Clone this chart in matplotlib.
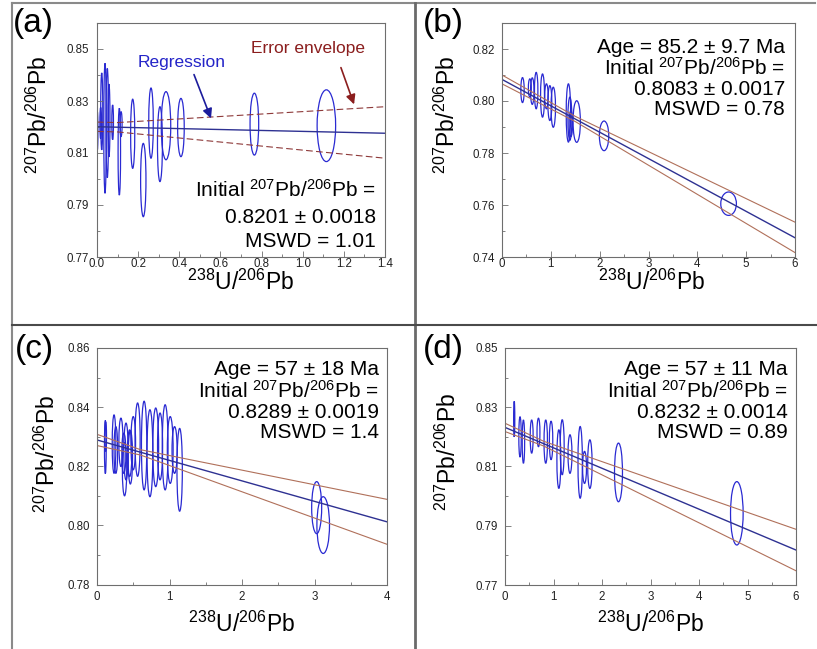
import matplotlib
matplotlib.use("Agg")
import matplotlib.pyplot as plt
from matplotlib.patches import Ellipse
from matplotlib.lines import Line2D
from matplotlib.ticker import FixedLocator

plt.rcParams['font.family'] = ['Liberation Sans', 'DejaVu Sans']
plt.rcParams['mathtext.fontset'] = 'custom'
plt.rcParams['mathtext.rm'] = 'Liberation Sans'
plt.rcParams['mathtext.it'] = 'Liberation Sans:italic'
plt.rcParams['mathtext.bf'] = 'Liberation Sans:bold'

W, H = 817, 649

# ---------------- data ----------------
# panel (a)
a_x = [0.0015, 0.018, 0.023, 0.039, 0.050, 0.058, 0.076, 0.1085, 0.117, 0.1735, 0.225, 0.2625, 0.306, 0.3354, 0.408, 0.765, 1.115]
a_y = [0.8185, 0.8215, 0.8260, 0.8195, 0.8215, 0.8225, 0.8218, 0.8105, 0.8211, 0.8174, 0.7996, 0.8215, 0.8134, 0.8205, 0.8198, 0.8211, 0.8205]
a_sx = [0.003, 0.004, 0.005, 0.006, 0.006, 0.005, 0.004, 0.006, 0.005, 0.010, 0.013, 0.011, 0.012, 0.023, 0.016, 0.021, 0.045]
a_sy = [0.0074, 0.0060, 0.0148, 0.0250, 0.0210, 0.0140, 0.0067, 0.0167, 0.0048, 0.0133, 0.0141, 0.0135, 0.0144, 0.0131, 0.0112, 0.0119, 0.0138]
a_reg_x = [0.0, 1.4]
a_reg_y = [0.8201, 0.8176]
a_env_x = [0.0, 0.1, 1.4]
a_env_up = [0.8219, 0.8217, 0.8278]
a_env_lo = [0.8183, 0.8181, 0.8080]

# panel (b)
b_x = [0.42, 0.57, 0.62, 0.70, 0.83, 0.91, 0.98, 1.05, 1.36, 1.39, 1.41, 1.53, 2.09, 4.64]
b_y = [0.8042, 0.8050, 0.8038, 0.8040, 0.8021, 0.8018, 0.7992, 0.7976, 0.7954, 0.7932, 0.7913, 0.7921, 0.7866, 0.7605]
b_sx = [0.034, 0.030, 0.035, 0.035, 0.040, 0.035, 0.040, 0.045, 0.045, 0.040, 0.035, 0.075, 0.096, 0.160]
b_sy = [0.0048, 0.0035, 0.0051, 0.0070, 0.0083, 0.0048, 0.0067, 0.0077, 0.0112, 0.0083, 0.0050, 0.0080, 0.0057, 0.0045]
b_reg_x = [0.0, 6.0]
b_reg_y = [0.8083, 0.7474]
b_env_x = [0.0, 1.5, 6.0]
b_env_up = [0.8100, 0.7941, 0.7534]
b_env_lo = [0.8066, 0.7921, 0.7417]

# panel (c)
c_x = [0.115, 0.119, 0.235, 0.26, 0.33, 0.37, 0.38, 0.40, 0.45, 0.46, 0.50, 0.56, 0.65, 0.73, 0.81, 0.87, 0.94, 1.01, 1.07, 1.14, 3.03, 3.12]
c_y = [0.8265, 0.8300, 0.8275, 0.8255, 0.8281, 0.8244, 0.8190, 0.8250, 0.8244, 0.8230, 0.8278, 0.8290, 0.8270, 0.8244, 0.8264, 0.8267, 0.8264, 0.8255, 0.8255, 0.8188, 0.8060, 0.8001]
c_sx = [0.012, 0.012, 0.025, 0.025, 0.028, 0.028, 0.030, 0.030, 0.030, 0.030, 0.032, 0.035, 0.037, 0.040, 0.040, 0.035, 0.040, 0.040, 0.035, 0.037, 0.069, 0.087]
c_sy = [0.0090, 0.0050, 0.0099, 0.0079, 0.0082, 0.0068, 0.0090, 0.0096, 0.0079, 0.0090, 0.0090, 0.0124, 0.0150, 0.0147, 0.0133, 0.0113, 0.0144, 0.0113, 0.0079, 0.0140, 0.0088, 0.0096]
c_reg_x = [0.0, 4.0]
c_reg_y = [0.8289, 0.8012]
c_env_x = [0.0, 0.6, 4.0]
c_env_up = [0.8308, 0.8256, 0.8088]
c_env_lo = [0.8270, 0.8238, 0.7936]

# panel (d)
d_x = [0.19, 0.31, 0.38, 0.55, 0.69, 0.84, 0.95, 1.11, 1.18, 1.34, 1.55, 1.64, 1.75, 2.34, 4.78]
d_y = [0.8260, 0.8200, 0.8184, 0.8201, 0.8215, 0.8184, 0.8188, 0.8125, 0.8165, 0.8142, 0.8114, 0.8097, 0.8108, 0.8080, 0.7942]
d_sx = [0.012, 0.025, 0.025, 0.030, 0.030, 0.035, 0.035, 0.040, 0.040, 0.040, 0.045, 0.040, 0.045, 0.082, 0.130]
d_sy = [0.0060, 0.0068, 0.0073, 0.0056, 0.0048, 0.0073, 0.0065, 0.0099, 0.0093, 0.0065, 0.0121, 0.0054, 0.0082, 0.0099, 0.0107]
d_reg_x = [0.0, 6.0]
d_reg_y = [0.8232, 0.7818]
d_env_x = [0.0, 0.8, 6.0]
d_env_up = [0.8246, 0.8185, 0.7888]
d_env_lo = [0.8218, 0.8169, 0.7748]

# axes ranges / ticks
a_xlim, a_ylim = (0, 1.4), (0.77, 0.86)
a_xticks = [0.0, 0.2, 0.4, 0.6, 0.8, 1.0, 1.2, 1.4]
a_xlabels = ['0.0', '0.2', '0.4', '0.6', '0.8', '1.0', '1.2', '1.4']
a_xminor = [0.1, 0.3, 0.5, 0.7, 0.9, 1.1, 1.3]
a_yticks = [0.77, 0.79, 0.81, 0.83, 0.85]
a_ylabels = ['0.77', '0.79', '0.81', '0.83', '0.85']
a_yminor = [0.78, 0.80, 0.82, 0.84]

b_xlim, b_ylim = (0, 6), (0.74, 0.83)
b_xticks = [0, 1, 2, 3, 4, 5, 6]
b_xlabels = ['0', '1', '2', '3', '4', '5', '6']
b_xminor = [0.5, 1.5, 2.5, 3.5, 4.5, 5.5]
b_yticks = [0.74, 0.76, 0.78, 0.80, 0.82]
b_ylabels = ['0.74', '0.76', '0.78', '0.80', '0.82']
b_yminor = [0.75, 0.77, 0.79, 0.81]

c_xlim, c_ylim = (0, 4), (0.78, 0.86)
c_xticks = [0, 1, 2, 3, 4]
c_xlabels = ['0', '1', '2', '3', '4']
c_xminor = [0.5, 1.5, 2.5, 3.5]
c_yticks = [0.78, 0.80, 0.82, 0.84, 0.86]
c_ylabels = ['0.78', '0.80', '0.82', '0.84', '0.86']
c_yminor = [0.79, 0.81, 0.83, 0.85]

d_xlim, d_ylim = (0, 6), (0.77, 0.85)
d_xticks = [0, 1, 2, 3, 4, 5, 6]
d_xlabels = ['0', '1', '2', '3', '4', '5', '6']
d_xminor = [0.5, 1.5, 2.5, 3.5, 4.5, 5.5]
d_yticks = [0.77, 0.79, 0.81, 0.83, 0.85]
d_ylabels = ['0.77', '0.79', '0.81', '0.83', '0.85']
d_yminor = [0.78, 0.80, 0.82, 0.84]

a_text = [r'Initial $^{207}$Pb/$^{206}$Pb =', '0.8201 ± 0.0018', 'MSWD = 1.01']
b_text = ['Age = 85.2 ± 9.7 Ma', r'Initial $^{207}$Pb/$^{206}$Pb =', '0.8083 ± 0.0017', 'MSWD = 0.78']
c_text = ['Age = 57 ± 18 Ma', r'Initial $^{207}$Pb/$^{206}$Pb =', '0.8289 ± 0.0019', 'MSWD = 1.4']
d_text = ['Age = 57 ± 11 Ma', r'Initial $^{207}$Pb/$^{206}$Pb =', '0.8232 ± 0.0014', 'MSWD = 0.89']

XLABEL = r'$^{238}$U/$^{206}$Pb'
YLABEL = r'$^{207}$Pb/$^{206}$Pb'

# ---------------- drawing ----------------
fig = plt.figure(figsize=(W / 100, H / 100), dpi=100)
fig.patch.set_facecolor('white')


def rect(l, t, r, b):
    return [l / W, 1 - b / H, (r - l) / W, (b - t) / H]


def fpt(x, y):
    return (x / W, 1 - y / H)


ELL_C = '#2a2ad2'
REG_C = '#2e3192'
ENV_C = '#b0705a'
FRAME_C = '#6e6e6e'


def panel(box, xs, ys, sxs, sys_, regx, regy, envx, envup, envlo,
          xlim, ylim, xt, xtl, xmn, yt, ytl, ymn, dashed,
          xlab_pos, ylab_pos, xpad, ypad):
    ax = fig.add_axes(rect(*box))
    ax.set_xlim(*xlim)
    ax.set_ylim(*ylim)
    for x, y, sx, sy in zip(xs, ys, sxs, sys_):
        ax.add_patch(Ellipse((x, y), 2 * sx, 2 * sy, fill=False,
                             ec=ELL_C, lw=0.9))
    ls = (0, (6, 3)) if dashed else '-'
    ec = '#8e3a3a' if dashed else ENV_C
    ax.plot(envx, envup, color=ec, lw=0.8, ls=ls)
    ax.plot(envx, envlo, color=ec, lw=0.8, ls=ls)
    ax.plot(regx, regy, color=REG_C, lw=1.0)
    ax.xaxis.set_major_locator(FixedLocator(xt))
    ax.set_xticklabels(xtl)
    ax.xaxis.set_minor_locator(FixedLocator(xmn))
    ax.yaxis.set_major_locator(FixedLocator(yt))
    ax.set_yticklabels(ytl)
    ax.yaxis.set_minor_locator(FixedLocator(ymn))
    ax.tick_params(which='both', direction='in', colors=FRAME_C,
                   labelcolor='#222222', labelsize=8.3, width=0.6)
    ax.tick_params(which='major', length=4)
    ax.tick_params(which='minor', length=2.5)
    ax.tick_params(axis='x', pad=xpad)
    ax.tick_params(axis='y', pad=ypad)
    for s in ax.spines.values():
        s.set_color(FRAME_C)
        s.set_linewidth(0.8)
    ax.set_xlabel(XLABEL, fontsize=16.5, va='baseline')
    ax.xaxis.set_label_coords(*xlab_pos)
    ax.set_ylabel(YLABEL, fontsize=16.5, va='baseline')
    ax.yaxis.set_label_coords(*ylab_pos)
    return ax


axA = panel((97, 23, 385, 257), a_x, a_y, a_sx, a_sy, a_reg_x, a_reg_y,
            a_env_x, a_env_up, a_env_lo, a_xlim, a_ylim, a_xticks, a_xlabels,
            a_xminor, a_yticks, a_ylabels, a_yminor, True,
            (0.50, -0.142), (-0.174, 0.61), 1.0, 6)
axB = panel((502, 23, 795, 257), b_x, b_y, b_sx, b_sy, b_reg_x, b_reg_y,
            b_env_x, b_env_up, b_env_lo, b_xlim, b_ylim, b_xticks, b_xlabels,
            b_xminor, b_yticks, b_ylabels, b_yminor, False,
            (0.51, -0.142), (-0.161, 0.607), 1.0, 5)
axC = panel((97, 348, 387, 584.5), c_x, c_y, c_sx, c_sy, c_reg_x, c_reg_y,
            c_env_x, c_env_up, c_env_lo, c_xlim, c_ylim, c_xticks, c_xlabels,
            c_xminor, c_yticks, c_ylabels, c_yminor, False,
            (0.50, -0.2), (-0.145, 0.552), 5, 5)
axD = panel((505, 348, 796, 585), d_x, d_y, d_sx, d_sy, d_reg_x, d_reg_y,
            d_env_x, d_env_up, d_env_lo, d_xlim, d_ylim, d_xticks, d_xlabels,
            d_xminor, d_yticks, d_ylabels, d_yminor, False,
            (0.50, -0.197), (-0.168, 0.562), 4.5, 5)

# statistics text
for txt, yy in zip(a_text, [197, 223, 247]):
    fig.text(*fpt(376, yy), txt, ha='right', va='baseline', fontsize=15)
for txt, yy in zip(b_text, [53, 75, 95, 115]):
    fig.text(*fpt(785, yy), txt, ha='right', va='baseline', fontsize=15)
for txt, yy in zip(c_text, [375, 398, 418, 438]):
    fig.text(*fpt(379, yy), txt, ha='right', va='baseline', fontsize=15)
for txt, yy in zip(d_text, [375, 398, 418, 438]):
    fig.text(*fpt(788, yy), txt, ha='right', va='baseline', fontsize=15)

# panel letters
for lab, xx, yy in [('(a)', 13, 32), ('(b)', 423, 32), ('(c)', 15, 358), ('(d)', 423, 358)]:
    fig.text(*fpt(xx, yy), lab, ha='left', va='baseline', fontsize=24)

# callouts in (a)
fig.text(*fpt(182, 63), 'Regression', ha='center', va='center', fontsize=12.5, color='#2424c8')
fig.text(*fpt(308, 48), 'Error envelope', ha='center', va='center', fontsize=12.5, color='#8b1e1e')
fig.add_artist(matplotlib.patches.FancyArrowPatch(
    fpt(193, 72), fpt(212, 121), transform=fig.transFigure,
    arrowstyle='-|>', mutation_scale=14, color='#1c1c9c', lw=1.2))
fig.add_artist(matplotlib.patches.FancyArrowPatch(
    fpt(340, 65), fpt(355, 107), transform=fig.transFigure,
    arrowstyle='-|>', mutation_scale=14, color='#8b1e1e', lw=1.2))

# panel borders
def fline(x0, y0, x1, y1, c, lw):
    fig.add_artist(Line2D([x0 / W, x1 / W], [1 - y0 / H, 1 - y1 / H],
                          transform=fig.transFigure, color=c, lw=lw))

fline(12, 2.5, 815, 2.5, '#8a8a8a', 1.5)
fline(12, 2.5, 12, 649, '#8a8a8a', 1.5)
fline(415, 2.5, 415, 649, '#6a6a6a', 2.0)
fline(12, 325, 817, 325, '#4a4a4a', 1.5)

fig.savefig('out.png', dpi=100, facecolor='white')
